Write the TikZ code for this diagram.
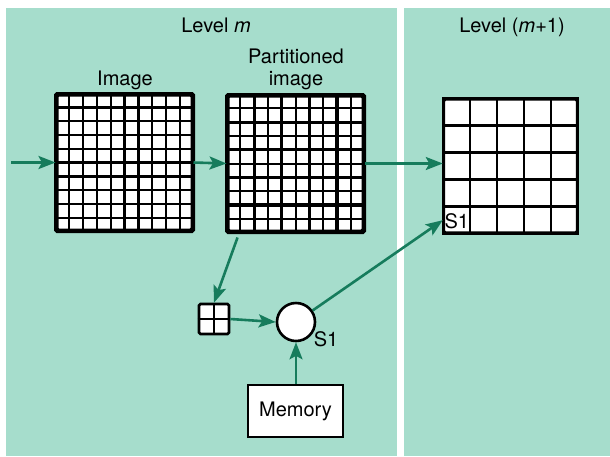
\documentclass[tikz,border=0pt]{standalone}
\usepackage{fontspec}
\setmainfont{TeX Gyre Heros}
\usetikzlibrary{arrows.meta,calc}
\definecolor{panel}{RGB}{166,221,204}
\definecolor{arrowgreen}{RGB}{22,124,92}
\tikzset{
  panelbox/.style={fill=panel,draw=none},
  gridbox/.style={draw=black,fill=white,line width=3pt,rounded corners=1.5pt,inner sep=0pt},
  gridline/.style={draw=black,line width=2.4pt},
  thinline/.style={draw=black,line width=2pt},
  thickline/.style={draw=black,line width=3.2pt},
  flow/.style={draw=arrowgreen,line width=2.6pt,-{Stealth[length=17pt,width=13pt,inset=3.5pt]}},
  lab/.style={font=\fontsize{20}{24}\selectfont,inner sep=0pt},
}
\begin{document}
\begin{tikzpicture}[x=1pt,y=-1pt]
\useasboundingbox (0,0) rectangle (610,456);
\fill[white] (0,0) rectangle (610,456);
\fill[panelbox] (6,8) rectangle (397,456);
\fill[panelbox] (404,8) rectangle (610,456);
% labels
\node[lab,anchor=base] (lvm) at (216,32) {Level \textit{m}};
\node[lab,anchor=base] (lvm1) at (512,32) {Level (\textit{m}+1)};
\node[lab,anchor=base] (imglab) at (125,85) {Image};
\node[lab,anchor=base] (partlab1) at (296,63) {Partitioned};
\node[lab,anchor=base] (partlab2) at (296,85) {image};
% image grid 10x10
\node[gridbox,minimum width=135pt,minimum height=135pt] (img) at (124.5,162.5) {};
\foreach \i in {1,...,9}{
  \draw[gridline] ($(img.north west)!\i/10!(img.north east)$) -- ($(img.south west)!\i/10!(img.south east)$);
  \draw[gridline] ($(img.north west)!\i/10!(img.south west)$) -- ($(img.north east)!\i/10!(img.south east)$);
}
\draw[draw=black,line width=3pt,rounded corners=1.5pt] (img.north west) rectangle (img.south east);
% partitioned grid
\node[gridbox,minimum width=135pt,minimum height=135pt] (part) at (295.5,163.5) {};
\foreach \i in {1,3,5,7,9}{
  \draw[thinline] ($(part.north west)!\i/10!(part.north east)$) -- ($(part.south west)!\i/10!(part.south east)$);
  \draw[thinline] ($(part.north west)!\i/10!(part.south west)$) -- ($(part.north east)!\i/10!(part.south east)$);
}
\foreach \i in {2,4,6,8}{
  \draw[thickline] ($(part.north west)!\i/10!(part.north east)$) -- ($(part.south west)!\i/10!(part.south east)$);
  \draw[thickline] ($(part.north west)!\i/10!(part.south west)$) -- ($(part.north east)!\i/10!(part.south east)$);
}
\draw[draw=black,line width=3pt,rounded corners=1.5pt] (part.north west) rectangle (part.south east);
% level m+1 grid 5x5
\node[gridbox,line width=2.4pt,minimum width=133pt,minimum height=133pt] (lvl) at (510.5,166) {};
\foreach \i in {1,...,4}{
  \draw[gridline] ($(lvl.north west)!\i/5!(lvl.north east)$) -- ($(lvl.south west)!\i/5!(lvl.south east)$);
  \draw[gridline] ($(lvl.north west)!\i/5!(lvl.south west)$) -- ($(lvl.north east)!\i/5!(lvl.south east)$);
}
\draw[draw=black,line width=2.4pt] (lvl.north west) rectangle (lvl.south east);
\node[inner sep=0pt,minimum width=26.6pt,minimum height=26.6pt,anchor=south west] (s1cell) at (lvl.south west) {};
\node[lab,anchor=west] (s1a) at ($(s1cell.west)+(1.5,1)$) {S1};
% small 2x2 box
\node[gridbox,line width=2.6pt,minimum width=30pt,minimum height=30pt] (small) at (214,319) {};
\draw[gridline,line width=2pt] (small.north) -- (small.south);
\draw[gridline,line width=2pt] (small.west) -- (small.east);
% circle
\node[draw=black,fill=white,circle,line width=2.6pt,minimum size=38pt,inner sep=0pt] (circ) at (296,322) {};
\node[lab,anchor=center] (s1b) at (326,339) {S1};
% memory
\node[draw=black,fill=white,line width=2.8pt,minimum width=95pt,minimum height=52pt,lab] (mem) at (295.5,411) {Memory};
% arrows
\coordinate (in) at (11,162.5);
\draw[flow] (in) -- (img.west);
\draw[flow] (img.east) -- (part.west);
\draw[flow] (part.east) -- (part.east -| lvl.west);
\coordinate (pstart) at ($(part.south west)!0.08!(part.south east)+(0,5)$);
\draw[flow] (pstart) -- (small.north);
\draw[flow] (small.east) -- (circ.west);
\draw[flow] (mem.north -| circ.south) -- (circ.south);
\draw[flow] (circ) -- (s1cell.west);
\end{tikzpicture}
\end{document}
